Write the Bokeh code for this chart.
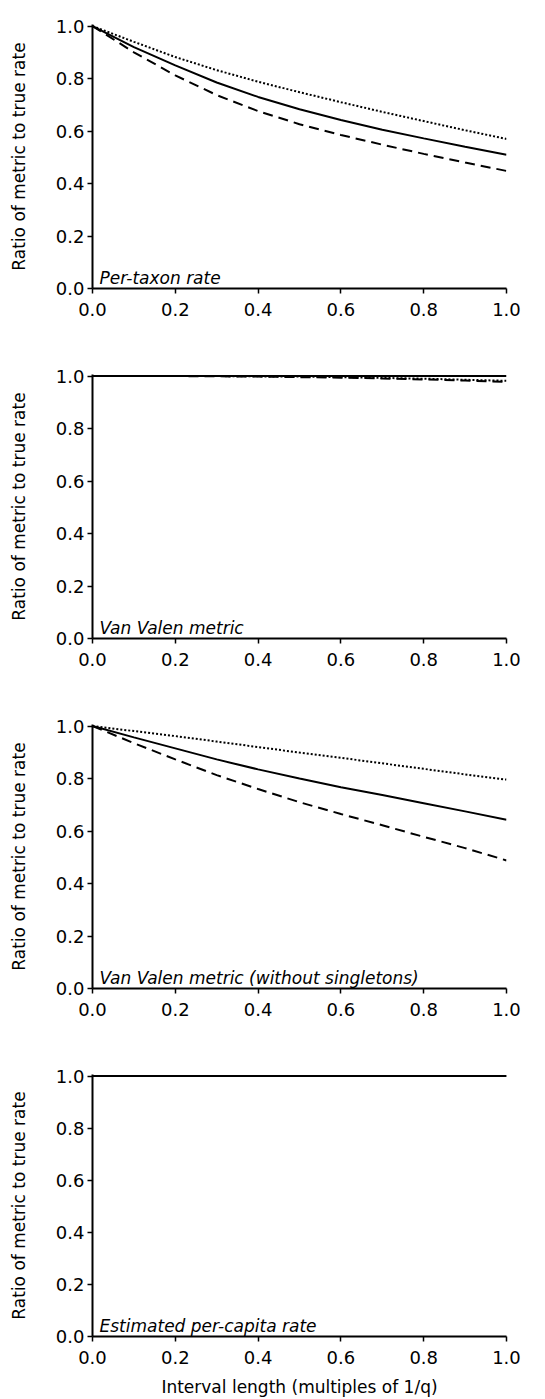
from bokeh.plotting import figure
from bokeh.layouts import column
from bokeh.models import Range1d, Label, FixedTicker, PrintfTickFormatter
from bokeh.embed import file_html
from bokeh.resources import INLINE

# Interval length (multiples of 1/q)
interval = [0.0, 0.1, 0.2, 0.3, 0.4, 0.5, 0.6, 0.7, 0.8, 0.9, 1.0]

# Per-taxon rate
per_taxon_solid = [1.0, 0.92, 0.85, 0.785, 0.73, 0.683, 0.642, 0.605, 0.572, 0.54, 0.51]
per_taxon_dotted = [1.0, 0.94, 0.882, 0.832, 0.788, 0.748, 0.71, 0.673, 0.638, 0.603, 0.57]
per_taxon_dashed = [1.0, 0.90, 0.812, 0.737, 0.676, 0.626, 0.585, 0.548, 0.513, 0.48, 0.448]

# Van Valen metric
vv_solid = [1.0] * 11
vv_dotted = [1.0, 1.0, 1.0, 1.0, 0.999, 0.998, 0.996, 0.993, 0.99, 0.986, 0.982]
vv_dashed = [1.0, 1.0, 1.0, 0.999, 0.998, 0.996, 0.994, 0.991, 0.987, 0.983, 0.978]

# Van Valen metric (without singletons)
vvns_solid = [1.0, 0.957, 0.915, 0.873, 0.835, 0.80, 0.767, 0.737, 0.706, 0.675, 0.643]
vvns_dotted = [1.0, 0.981, 0.962, 0.941, 0.92, 0.899, 0.879, 0.858, 0.837, 0.816, 0.796]
vvns_dashed = [1.0, 0.935, 0.873, 0.813, 0.76, 0.71, 0.665, 0.622, 0.578, 0.535, 0.488]

# Estimated per-capita rate
pc_solid = [1.0] * 11
pc_dotted = [1.0] * 11
pc_dashed = [1.0] * 11

panel_titles = [
    "Per-taxon rate",
    "Van Valen metric",
    "Van Valen metric (without singletons)",
    "Estimated per-capita rate",
]
panel_series = [
    (per_taxon_solid, per_taxon_dotted, per_taxon_dashed),
    (vv_solid, vv_dotted, vv_dashed),
    (vvns_solid, vvns_dotted, vvns_dashed),
    (pc_solid, pc_dotted, pc_dashed),
]
tick_values = [0.0, 0.2, 0.4, 0.6, 0.8, 1.0]
y_title = "Ratio of metric to true rate"
x_title = "Interval length (multiples of 1/q)"

FONT = "DejaVu Sans"


def make_panel(title, series, last):
    h = 349 if last else 350
    p = figure(
        width=545, height=h,
        x_range=Range1d(0, 1.0), y_range=Range1d(0, 1.006),
        output_backend="svg", toolbar_location=None,
        min_border_left=92, min_border_right=39,
        min_border_top=24, min_border_bottom=61 if last else 62,
        background_fill_color="white", border_fill_color="white",
    )
    p.outline_line_color = None
    p.grid.visible = False

    for ax in (p.xaxis[0], p.yaxis[0]):
        ax.ticker = FixedTicker(ticks=tick_values)
        ax.formatter = PrintfTickFormatter(format="%.1f")
        ax.axis_line_color = "black"
        ax.axis_line_width = 2
        ax.major_tick_line_color = "black"
        ax.major_tick_line_width = 1.5
        ax.major_tick_in = 0
        ax.major_tick_out = 5
        ax.minor_tick_line_color = None
        ax.major_label_text_font = FONT
        ax.major_label_text_font_size = "18px"
        ax.major_label_text_color = "black"
        ax.axis_label_text_font = FONT
        ax.axis_label_text_font_size = "17px"
        ax.axis_label_text_font_style = "normal"
        ax.axis_label_text_color = "black"

    p.xaxis.major_label_standoff = 9
    p.yaxis.major_label_standoff = 3

    p.yaxis.axis_label = y_title
    p.yaxis.axis_label_standoff = 24
    if last:
        p.xaxis.axis_label = x_title
        p.xaxis.axis_label_standoff = 10

    solid, dotted, dashed = series
    p.line(interval, dotted, line_color="black", line_width=2, line_dash="2 2")
    p.line(interval, dashed, line_color="black", line_width=2, line_dash="10 6")
    p.line(interval, solid, line_color="black", line_width=2)

    p.add_layout(Label(
        x=0, y=0, x_offset=7, y_offset=11, text=title,
        text_font=FONT, text_font_size="17px", text_font_style="italic",
        text_color="black", text_baseline="alphabetic",
    ))
    return p


panels = [make_panel(t, s, i == 3) for i, (t, s) in enumerate(zip(panel_titles, panel_series))]
layout = column(*panels, spacing=0)

open("out.html", "w").write(file_html(layout, INLINE))
